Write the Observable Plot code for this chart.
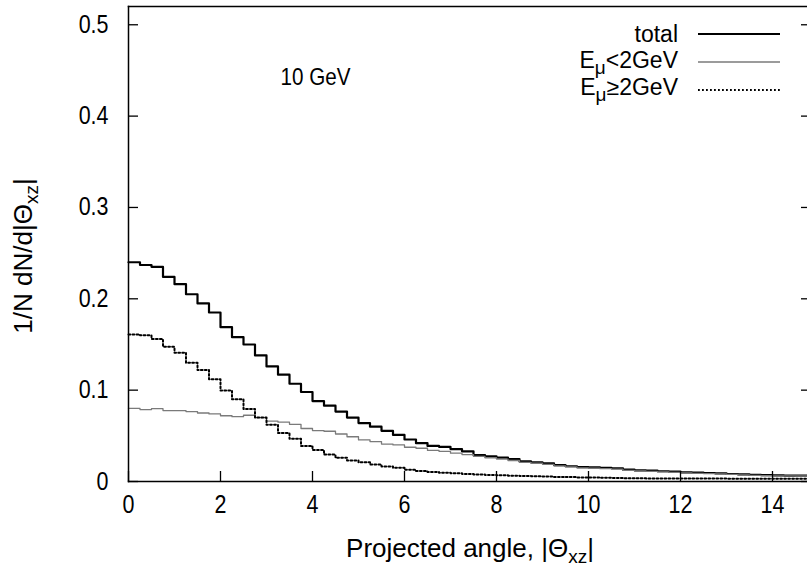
<!DOCTYPE html>
<html><head><meta charset="utf-8">
<script src="https://cdn.jsdelivr.net/npm/d3@7"></script>
<script src="https://cdn.jsdelivr.net/npm/@observablehq/plot@0.6"></script>
<style>
html,body{margin:0;padding:0;background:#fff;overflow:hidden}
#chart{width:807px;height:575px;overflow:hidden}
</style>
</head><body><div id="chart"></div>
<script>
// Histogram bins of width 0.25 starting at 0 (|Theta_xz| in degrees)
const binWidth = 0.25;
const xDomain = [0, 15];
const yDomain = [0, 0.52];
const xTicks = [0, 2, 4, 6, 8, 10, 12, 14];
const yTicks = [0, 0.1, 0.2, 0.3, 0.4, 0.5];
const annotation = ["10 GeV"];

const totalValues = [
  0.240, 0.237, 0.235, 0.224, 0.216, 0.205, 0.195, 0.185, 0.169, 0.158,
  0.150, 0.138, 0.126, 0.117, 0.107, 0.098, 0.088, 0.083, 0.0765, 0.070,
  0.064, 0.060, 0.0555, 0.051, 0.046, 0.042, 0.039, 0.038, 0.0355, 0.033,
  0.029, 0.0275, 0.0262, 0.0245, 0.022, 0.021, 0.020, 0.018, 0.0167, 0.0158,
  0.0155, 0.015, 0.0145, 0.013, 0.0122, 0.0118, 0.0112, 0.0108, 0.0100, 0.0097,
  0.0093, 0.0090, 0.0082, 0.0078, 0.0072, 0.0069, 0.0066, 0.0065, 0.0064, 0.0063
];
const lowEValues = [
  0.080, 0.0787, 0.0797, 0.0776, 0.0776, 0.0765, 0.075, 0.074, 0.072, 0.071,
  0.0725, 0.070, 0.066, 0.065, 0.0626, 0.058, 0.0557, 0.055, 0.052, 0.049,
  0.0455, 0.0437, 0.041, 0.040, 0.0375, 0.0364, 0.034, 0.033, 0.031, 0.0295,
  0.0275, 0.026, 0.0245, 0.023, 0.021, 0.020, 0.0188, 0.0172, 0.016, 0.015,
  0.0145, 0.014, 0.0135, 0.0122, 0.0115, 0.011, 0.0105, 0.0100, 0.0093, 0.0090,
  0.0087, 0.0084, 0.0077, 0.0073, 0.0068, 0.0065, 0.0062, 0.0061, 0.0060, 0.0059
];
const highEValues = [
  0.161, 0.160, 0.156, 0.1475, 0.141, 0.130, 0.122, 0.112, 0.0995, 0.090,
  0.0795, 0.070, 0.062, 0.053, 0.0467, 0.039, 0.0346, 0.0295, 0.026, 0.023,
  0.021, 0.0186, 0.0164, 0.015, 0.0128, 0.0115, 0.0105, 0.0095, 0.009, 0.0082,
  0.0078, 0.0072, 0.0068, 0.0064, 0.006, 0.0057, 0.0054, 0.005, 0.0048, 0.0045,
  0.0043, 0.004, 0.0038, 0.0036, 0.0035, 0.0034, 0.0033, 0.0033, 0.0033, 0.0032,
  0.0032, 0.0032, 0.0031, 0.0031, 0.0031, 0.0030, 0.0030, 0.0030, 0.0030, 0.0030
];

function steps(values) {
  const rows = values.map((v, i) => ({x: i * binWidth, y: v}));
  rows.push({x: values.length * binWidth, y: values[values.length - 1]});
  return rows;
}

const FONT = "'Liberation Sans', Arial, Helvetica, sans-serif";
const FS = 25;
const LABEL_FS = 26;
const SUB = 19;

const chart = Plot.plot({
  width: 807, height: 575,
  marginLeft: 128, marginRight: -11, marginTop: 6, marginBottom: 94,
  style: {fontFamily: FONT, fontSize: FS + "px", color: "#000", background: "#fff", overflow: "hidden"},
  x: {domain: xDomain},
  y: {domain: yDomain},
  marks: [
    Plot.line(steps(totalValues), {x: "x", y: "y", curve: "step-after", stroke: "#000", strokeWidth: 2.2}),
    Plot.line(steps(lowEValues), {x: "x", y: "y", curve: "step-after", stroke: "#7a7a7a", strokeWidth: 1.3}),
    Plot.line(steps(highEValues), {x: "x", y: "y", curve: "step-after", stroke: "#000", strokeWidth: 2, strokeDasharray: "1.8,2.2"}),
    Plot.frame({anchor: "left", stroke: "#000", strokeWidth: 1.5}),
    Plot.frame({anchor: "bottom", stroke: "#000", strokeWidth: 1.5}),
    Plot.frame({anchor: "top", stroke: "#000", strokeWidth: 1.5}),
    Plot.axisX({ticks: xTicks, tickSize: -10, strokeWidth: 1.3, tickFormat: () => "", label: null}),
    Plot.axisX({ticks: xTicks, tickSize: 0, tickPadding: 14, tickFormat: d => String(d), fontSize: FS, label: null}),
    Plot.axisY({ticks: yTicks, tickSize: -10, strokeWidth: 1.3, tickFormat: () => "", label: null}),
    Plot.axisY({ticks: yTicks, tickSize: 0, tickPadding: 20, tickFormat: d => d === 0 ? "0" : d.toFixed(1), fontSize: FS, label: null}),
    Plot.axisY({ticks: yTicks, anchor: "right", tickSize: -18, strokeWidth: 1.3, tickFormat: () => "", label: null}),
    Plot.text(annotation, {frameAnchor: "top-left", dx: 152, dy: 78, textAnchor: "start", lineAnchor: "bottom", fontSize: 24, className: "annot"})
  ]
});
document.getElementById("chart").appendChild(chart);

const svg = d3.select(chart);
// narrow the tick labels and annotation horizontally (tall, narrow glyphs as in the reference)
svg.selectAll('g[aria-label$="tick label"] text, g[aria-label="text"] text').each(function() {
  const el = d3.select(this);
  const tr = el.attr("transform") || "";
  el.attr("transform", `${tr} scale(0.86,1)`);
});

function richText(g, parts) {
  parts.forEach(p => {
    const t = g.append("tspan").text(p.t);
    if (p.sub) t.attr("dy", 6).attr("font-size", SUB);
    if (p.back) t.attr("dy", -6);
  });
}
// x axis label
const xl = svg.append("text").attr("x", 470).attr("y", 557).attr("text-anchor", "middle")
  .attr("font-family", FONT).attr("font-size", LABEL_FS).attr("fill", "#000");
richText(xl, [{t: "Projected angle, |Θ"}, {t: "xz", sub: true}, {t: "|", back: true}]);
// y axis label
const yl = svg.append("text").attr("transform", "translate(32,256) rotate(-90)").attr("text-anchor", "middle")
  .attr("font-family", FONT).attr("font-size", LABEL_FS).attr("fill", "#000");
richText(yl, [{t: "1/N dN/d|Θ"}, {t: "xz", sub: true}, {t: "|", back: true}]);

// legend
const legend = [
  {parts: [{t: "total"}], base: 42, ly: 34, stroke: "#000", sw: 2.2, dash: null},
  {parts: [{t: "E"}, {t: "μ", sub: true}, {t: "<2GeV", back: true}], base: 68, ly: 62, stroke: "#7a7a7a", sw: 1.3, dash: null},
  {parts: [{t: "E"}, {t: "μ", sub: true}, {t: "≥2GeV", back: true}], base: 95, ly: 90, stroke: "#000", sw: 2, dash: "1.8,2.2"}
];
legend.forEach(d => {
  const t = svg.append("text").attr("x", 678).attr("y", d.base).attr("text-anchor", "end")
    .attr("font-family", FONT).attr("font-size", 23).attr("fill", "#000");
  richText(t, d.parts);
  svg.append("line").attr("x1", 698).attr("x2", 780).attr("y1", d.ly).attr("y2", d.ly)
    .attr("stroke", d.stroke).attr("stroke-width", d.sw).attr("stroke-dasharray", d.dash);
});
</script>
</body></html>
